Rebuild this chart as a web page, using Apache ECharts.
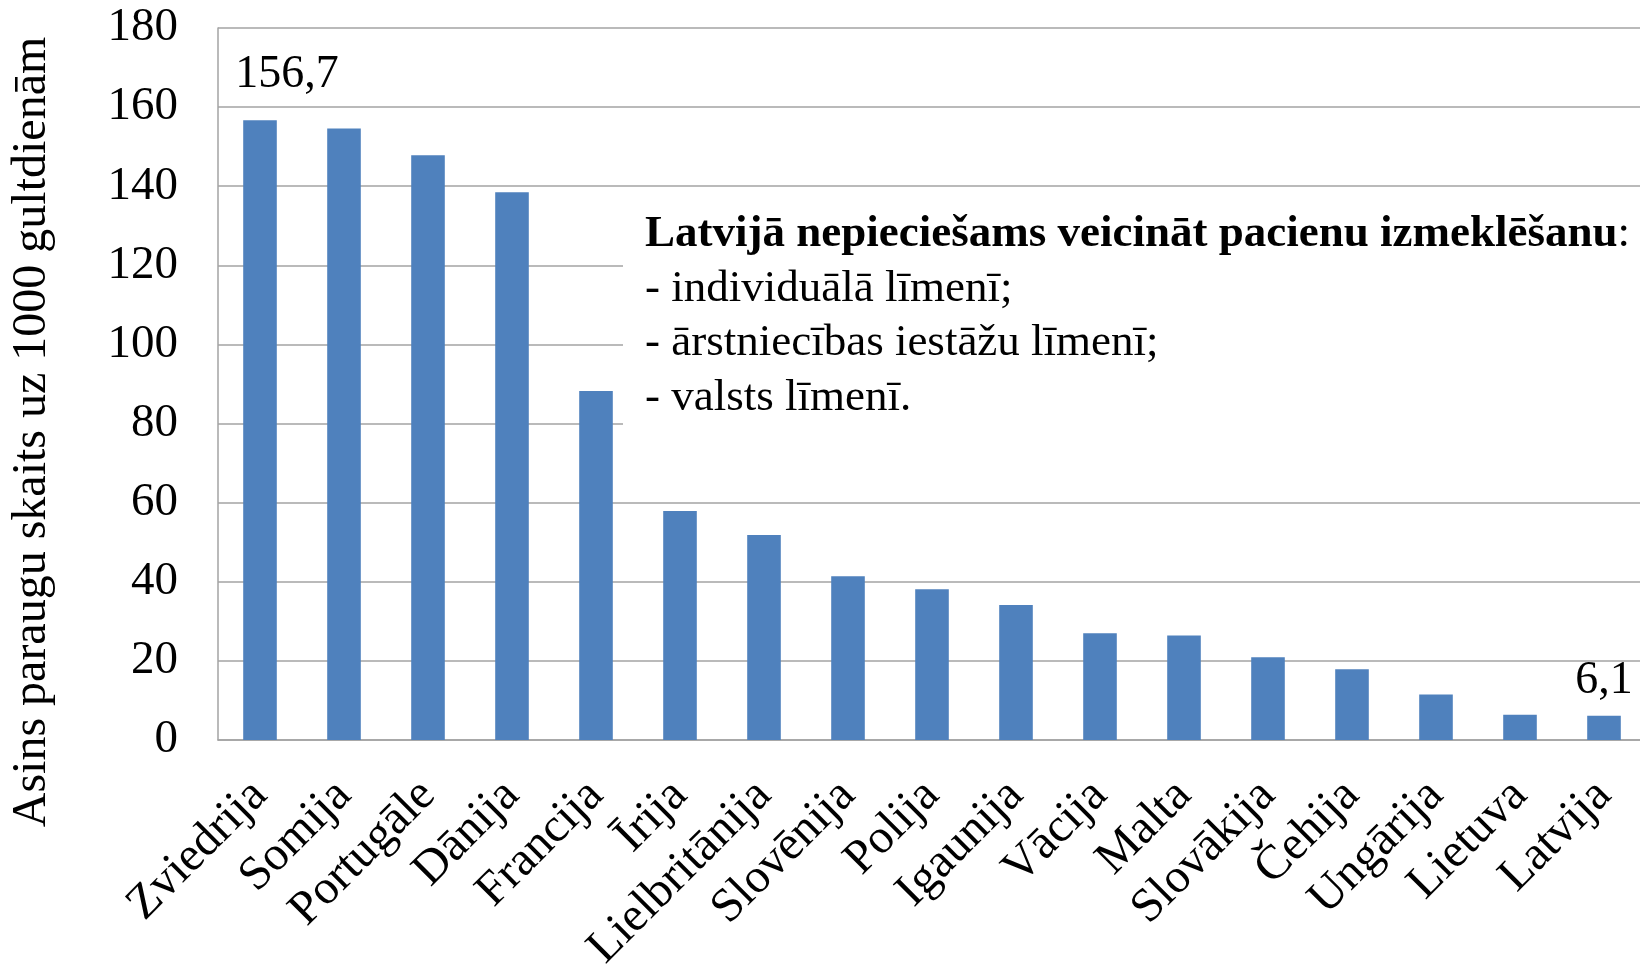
<!DOCTYPE html>
<html>
<head>
<meta charset="utf-8">
<script src="https://cdn.jsdelivr.net/npm/echarts@6/dist/echarts.min.js"></script>
<style>
  html, body { margin: 0; padding: 0; background: #fff; }
  #chart { width: 1640px; height: 964px; }
</style>
</head>
<body>
<div id="chart"></div>
<script>
const countries = ['Zviedrija', 'Somija', 'Portugāle', 'Dānija', 'Francija', 'Īrija', 'Lielbritānija',
  'Slovēnija', 'Polija', 'Igaunija', 'Vācija', 'Malta', 'Slovākija', 'Čehija', 'Ungārija', 'Lietuva', 'Latvija']
const samples = [156.7, 154.6, 147.8, 138.5, 88.2, 57.9, 51.8, 41.4, 38.1, 34.1, 27.0, 26.4, 20.9, 17.9, 11.5, 6.4, 6.1]
const yTicks = [0, 20, 40, 60, 80, 100, 120, 140, 160, 180]
const labelled = ['Zviedrija', 'Latvija']
const axisTitle = 'Asins paraugu skaits uz 1000 gultdienām'
const noteTitle = 'Latvijā nepieciešams veicināt pacienu izmeklēšanu'
const noteLines = ['- individuālā līmenī;', '- ārstniecības iestāžu līmenī;', '- valsts līmenī.']

const serif = "'Liberation Serif', 'Times New Roman', serif"
const gridColor = '#a3a3a3'
const barColor = '#4f81bd'

const chart = echarts.init(document.getElementById('chart'))

const barData = samples.map((v, i) => {
  const item = { value: v }
  if (labelled.includes(countries[i])) {
    item.label = {
      show: true,
      position: 'top',
      distance: 12,
      offset: i === 0 ? [27, -10] : [0, 0],
      formatter: p => String(p.value).replace('.', ','),
      fontFamily: serif,
      fontSize: 46,
      color: '#000'
    }
  }
  return item
})

// white note box over the grid lines, with its text
const note = [
  {
    type: 'rect',
    z: 100,
    shape: { x: 623, y: 200, width: 1030, height: 240 },
    style: { fill: '#fff' }
  },
  {
    type: 'text',
    z: 101,
    x: 645,
    y: 234,
    style: {
      text: '{b|' + noteTitle + '}{n|:}',
      verticalAlign: 'middle',
      rich: {
        b: { fontFamily: serif, fontSize: 45, fontWeight: 'bold', fill: '#000' },
        n: { fontFamily: serif, fontSize: 45, fill: '#000' }
      }
    }
  }
]
noteLines.forEach((t, i) => {
  note.push({
    type: 'text',
    z: 101,
    x: 645,
    y: 289 + i * 54.5,
    style: { text: t, font: '45px ' + serif, fill: '#000', verticalAlign: 'middle' }
  })
})

const option = {
  backgroundColor: '#fff',
  animation: false,
  grid: {
    left: 218,
    top: 28,
    width: 1428,
    bottom: 224,
    containLabel: false,
    outerBoundsMode: 'none'
  },
  xAxis: {
    type: 'category',
    data: countries,
    axisLine: { show: true, lineStyle: { color: gridColor, width: 1.5 } },
    axisTick: { show: false },
    axisLabel: {
      rotate: 45,
      margin: 48,
      interval: 0,
      fontFamily: serif,
      fontSize: 48,
      color: '#000'
    }
  },
  yAxis: {
    type: 'value',
    min: yTicks[0],
    max: yTicks[yTicks.length - 1],
    interval: yTicks[1] - yTicks[0],
    axisLine: { show: true, lineStyle: { color: gridColor, width: 1.5 } },
    axisTick: { show: false },
    splitLine: { show: true, lineStyle: { color: gridColor, width: 1.5 } },
    axisLabel: {
      margin: 40,
      fontFamily: serif,
      fontSize: 47,
      color: '#000'
    }
  },
  graphic: [
    {
      type: 'text',
      x: 32,
      y: 432,
      rotation: Math.PI / 2,
      style: {
        text: axisTitle,
        font: '48px ' + serif,
        fill: '#000',
        align: 'center',
        verticalAlign: 'middle'
      }
    }
  ].concat(note),
  series: [
    {
      type: 'bar',
      data: barData,
      barWidth: '40%',
      itemStyle: { color: barColor },
      label: { show: false }
    }
  ]
}

chart.setOption(option)
window.addEventListener('resize', () => chart.resize())
</script>
</body>
</html>
